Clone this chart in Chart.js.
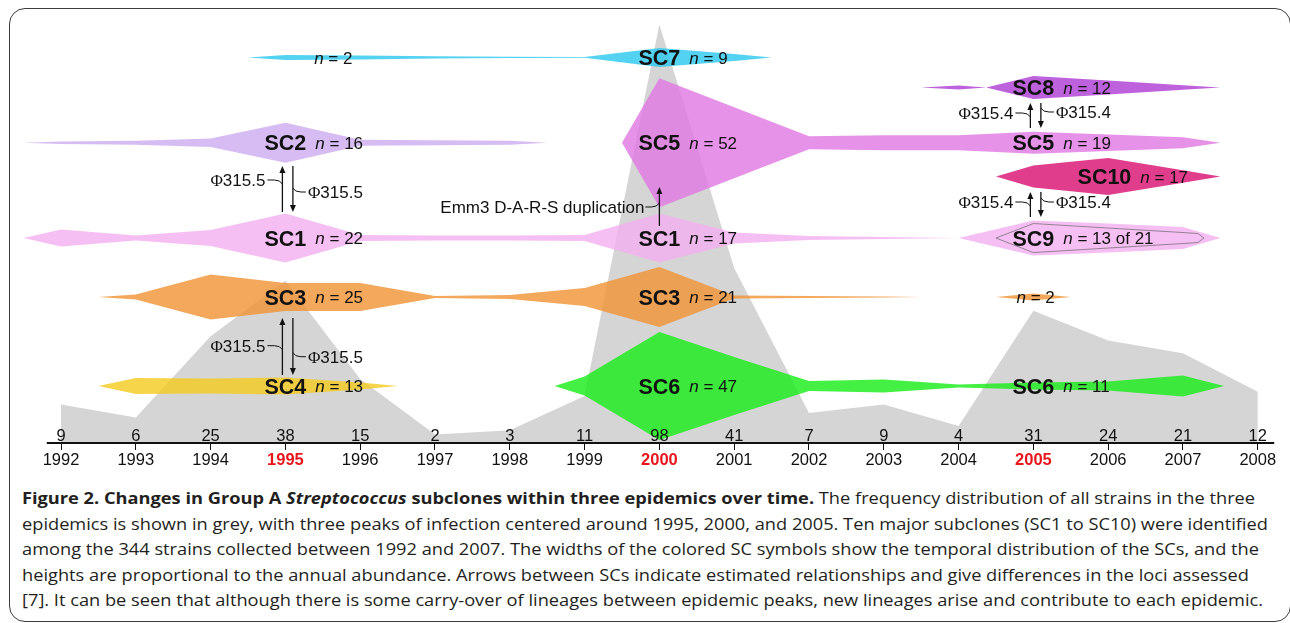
<!DOCTYPE html>
<html lang="en">
<head>
<meta charset="UTF-8">
<title>Group A Streptococcus subclones</title>
<script src="https://cdn.jsdelivr.net/npm/chart.js"></script>
<style>
  body {
    margin: 0;
    width: 1290px;
    height: 623px;
    overflow: hidden;
    position: relative;
    background: #fff;
  }

  .frame {
    position: absolute;
    left: 9px;
    top: 8px;
    width: 1282px;
    height: 614px;
    box-sizing: border-box;
    border: 1.5px solid #3c3c3c;
    border-radius: 16px;
  }

  #chart {
    position: absolute;
    left: 0;
    top: 0;
  }

  #caption {
    position: absolute;
    left: 22px;
    top: 485px;
    font-family: "Open Sans", "Noto Sans", sans-serif;
    font-size: 16.5px;
    line-height: 25.5px;
    color: #231f20;
    white-space: nowrap;
    transform-origin: left top;
  }

  #caption .ln {
    width: max-content;
  }
</style>
</head>
<body>
  <div class="frame"></div>
  <canvas id="chart" width="1290" height="480"></canvas>
  <div id="caption">
    <div class="ln"><b>Figure 2. Changes in Group A <i>Streptococcus</i> subclones within three epidemics over time.</b> The frequency distribution of all strains in the three</div>
    <div class="ln">epidemics is shown in grey, with three peaks of infection centered around 1995, 2000, and 2005. Ten major subclones (SC1 to SC10) were identified</div>
    <div class="ln">among the 344 strains collected between 1992 and 2007. The widths of the colored SC symbols show the temporal distribution of the SCs, and the</div>
    <div class="ln">heights are proportional to the annual abundance. Arrows between SCs indicate estimated relationships and give differences in the loci assessed</div>
    <div class="ln">[7]. It can be seen that although there is some carry-over of lineages between epidemic peaks, new lineages arise and contribute to each epidemic.</div>
  </div>

  <script>
    function fitCaption() {
      const cap = document.getElementById('caption');
      cap.style.transform = 'none';
      const w = cap.querySelectorAll('.ln')[1].getBoundingClientRect().width;
      cap.style.transform = 'scaleX(' + (1246 / w) + ')';
    }
    fitCaption();
    document.fonts.ready.then(fitCaption);

    // all strains per year (grey area + numbers above the axis)
    const years = [1992, 1993, 1994, 1995, 1996, 1997, 1998, 1999, 2000, 2001, 2002, 2003, 2004, 2005, 2006, 2007, 2008];
    const strainCounts = [9, 6, 25, 38, 15, 2, 3, 11, 98, 41, 7, 9, 4, 31, 24, 21, 12];
    const peakYears = [1995, 2000, 2005];

    // vertical level of each subclone row
    const rowA = 90.3, rowB = 83.26, rowC = 70.33, rowD = 62.41, rowE = 48.0, rowF = 34.19, rowG = 13.35;

    // subclone bands: sample years and half height (annual abundance)
    const sc7Years = [1994.5, 1995, 1996, 1997, 1998, 1999, 2000, 2001, 2001.5];
    const sc7Half = [0, 0.59, 0.47, 0.28, 0.14, 0.09, 2.22, 0.82, 0];
    const sc8Years = [2003.5, 2004, 2004.37, 2005, 2006, 2007, 2007.5];
    const sc8Half = [0, 0.47, 0.02, 2.69, 1.64, 0.54, 0];
    const sc2Years = [1991.5, 1992, 1993, 1994, 1995, 1996, 1997, 1998, 1998.5];
    const sc2Half = [0, 0.28, 0.47, 1.0, 4.68, 0.7, 0.59, 0.47, 0];
    const sc5Years = [1999.5, 2000, 2001, 2002, 2003, 2004, 2005, 2006, 2007, 2007.5];
    const sc5Half = [0, 15.1, 8.31, 1.52, 1.76, 1.76, 2.58, 1.92, 1.29, 0];
    const sc10Years = [2004.5, 2005, 2006, 2007, 2007.5];
    const sc10Half = [0, 2.58, 4.33, 1.45, 0];
    const sc1Years = [1991.5, 1992, 1993, 1994, 1995, 1996, 1997, 1998, 1999, 2000, 2001, 2002, 2003, 2004];
    const sc1Half = [0, 1.99, 0.59, 1.87, 5.74, 0.7, 0.59, 0.59, 0.7, 5.74, 1.29, 0.47, 0.23, 0];
    const sc1LateYears = [2004, 2005, 2006, 2007, 2007.5];
    const sc1LateHalf = [0, 4.1, 3.4, 2.58, 0];
    const sc9Years = [2004.5, 2005, 2006, 2007, 2007.2, 2007.28];
    const sc9Half = [0, 3.4, 2.34, 1.29, 1.05, 0];
    const sc3Years = [1992.5, 1993, 1994, 1995, 1996, 1997, 1998, 1999, 2000, 2001, 2002, 2003, 2003.5];
    const sc3Half = [0, 0.59, 5.27, 3.28, 3.28, 0.23, 0.47, 2.11, 7.03, 0.35, 0.23, 0.12, 0];
    const sc3LateYears = [2004.5, 2005, 2005.5];
    const sc3LateHalf = [0, 0.82, 0];
    const sc4Years = [1992.5, 1993, 1994, 1995, 1996, 1996.5];
    const sc4Half = [0, 1.87, 1.76, 1.99, 0.82, 0];
    const sc6Years = [1998.6, 1999, 2000, 2001, 2002, 2003, 2004, 2005, 2006, 2007, 2007.55];
    const sc6Half = [0, 2.22, 12.65, 6.79, 1.17, 1.52, 0.35, 0.82, 1.05, 2.46, 0];

    // labels on the bands
    const scNames = ['SC7', 'SC8', 'SC2', 'SC5', 'SC5', 'SC10', 'SC1', 'SC1', 'SC9', 'SC3', 'SC3', 'SC4', 'SC6', 'SC6'];
    const scCounts = ['9', '12', '16', '52', '19', '17', '22', '17', '13 of 21', '25', '21', '13', '47', '11'];
    const scLabelYears = [2000, 2005, 1995, 2000, 2005, 2005.95, 1995, 2000, 2005, 1995, 2000, 1995, 2000, 2005];
    const scLabelRows = [rowA, rowB, rowC, rowC, rowC, rowD, rowE, rowE, rowE, rowF, rowF, rowG, rowG, rowG];
    const smallCounts = ['2', '2'];
    const smallYears = [1995.64, 2005.03];
    const smallRows = [rowA, rowF];

    // arrows between subclones
    const linkYears = [1995, 1995, 2005, 2005];
    const linkUpper = [64.87, 29.27, 79.63, 58.78];
    const linkLower = [54.1, 15.93, 73.77, 52.93];
    const linkLabels = ['315.5', '315.5', '315.4', '315.4'];
    const linkLeftRows = [61.59, 22.79, 77.28, 56.44];
    const linkRightRows = [58.78, 20.21, 77.52, 56.44];
    const emmYear = 2000, emmFrom = 50.82, emmTo = 59.95, emmRow = 55.27;

    const axisStart = 1991.81, axisEnd = 2008.22;
    const FONT = '"Liberation Sans", Arial, sans-serif';

    function band(yrs, half, level) {
      const top = yrs.map((x, i) => ({ x, y: level + half[i] }));
      const bottom = yrs.map((x, i) => ({ x, y: level - half[i] })).reverse();
      return top.concat(bottom);
    }

    const subclones = [
      [sc7Years, sc7Half, rowA, 'rgba(40, 200, 238, 0.8)'],
      [sc8Years, sc8Half, rowB, 'rgba(174, 62, 212, 0.82)'],
      [sc2Years, sc2Half, rowC, 'rgba(205, 171, 240, 0.8)'],
      [sc5Years, sc5Half, rowC, 'rgba(224, 119, 226, 0.8)'],
      [sc10Years, sc10Half, rowD, 'rgba(217, 20, 116, 0.82)'],
      [sc1Years, sc1Half, rowE, 'rgba(244, 175, 240, 0.8)'],
      [sc1LateYears, sc1LateHalf, rowE, 'rgba(244, 175, 240, 0.8)'],
      [sc3Years, sc3Half, rowF, 'rgba(241, 146, 51, 0.8)'],
      [sc3LateYears, sc3LateHalf, rowF, 'rgba(241, 146, 51, 0.8)'],
      [sc4Years, sc4Half, rowG, 'rgba(245, 203, 29, 0.8)'],
      [sc6Years, sc6Half, rowG, 'rgba(20, 236, 20, 0.8)']
    ];

    const datasets = [{
      data: years.map((x, i) => ({ x, y: strainCounts[i] })),
      fill: 'origin',
      backgroundColor: '#d5d5d5',
      borderWidth: 0,
      borderColor: 'transparent',
      pointRadius: 0,
      order: 10
    }];

    subclones.forEach(([yrs, half, level, color]) => {
      datasets.push({
        data: band(yrs, half, level),
        fill: 'shape',
        backgroundColor: color,
        borderWidth: 0,
        borderColor: 'transparent',
        pointRadius: 0,
        order: 5
      });
    });

    const sc9Outline = band(sc9Years, sc9Half, rowE);
    sc9Outline.push(sc9Outline[0]);
    datasets.push({
      data: sc9Outline,
      fill: false,
      borderColor: 'rgba(100, 100, 100, 0.85)',
      borderWidth: 0.8,
      pointRadius: 0,
      order: 1
    });

    datasets.push({
      data: [{ x: axisStart, y: 0 }, { x: axisEnd, y: 0 }],
      fill: false,
      borderColor: '#111',
      borderWidth: 2,
      pointRadius: 0,
      clip: false,
      order: 0
    });

    function arrow(ctx, x, y1, y2) {
      // shaft from y1 to y2 with the head at y2
      const dir = y2 > y1 ? 1 : -1;
      ctx.beginPath();
      ctx.moveTo(x, y1);
      ctx.lineTo(x, y2 - dir * 5);
      ctx.stroke();
      ctx.beginPath();
      ctx.moveTo(x, y2);
      ctx.lineTo(x - 3, y2 - dir * 7);
      ctx.lineTo(x + 3, y2 - dir * 7);
      ctx.closePath();
      ctx.fill();
    }

    function phiText(ctx, txt, x, y, align) {
      ctx.font = '17px "Liberation Serif", serif';
      const pw = ctx.measureText('\u03A6').width;
      ctx.font = '17px ' + FONT;
      const tw = ctx.measureText(txt).width;
      const left = align === 'right' ? x - pw - tw : x;
      ctx.textAlign = 'left';
      ctx.font = '17px "Liberation Serif", serif';
      ctx.fillText('\u03A6', left, y + 6.1);
      ctx.font = '17px ' + FONT;
      ctx.fillText(txt, left + pw, y + 6.1);
    }

    function countText(ctx, count, left, cy) {
      ctx.textAlign = 'left';
      ctx.font = 'italic 17px ' + FONT;
      const nw = ctx.measureText('n').width;
      ctx.fillText('n', left, cy + 6.1);
      ctx.font = '17px ' + FONT;
      ctx.fillText(' = ' + count, left + nw, cy + 6.1);
    }

    const annotations = {
      id: 'annotations',
      afterDatasetsDraw(chart) {
        const { ctx, chartArea } = chart;
        const xs = chart.scales.x, ys = chart.scales.y;
        ctx.save();
        ctx.fillStyle = '#111';
        ctx.strokeStyle = '#111';
        ctx.lineWidth = 1.3;

        // strain numbers above the axis
        ctx.font = '16.5px ' + FONT;
        ctx.textAlign = 'center';
        years.forEach((yr, i) => {
          ctx.fillText(String(strainCounts[i]), xs.getPixelForValue(yr), chartArea.bottom - 8 + 5.9);
        });

        // subclone names and sizes
        scNames.forEach((name, i) => {
          const cx = xs.getPixelForValue(scLabelYears[i]);
          const cy = ys.getPixelForValue(scLabelRows[i]);
          ctx.font = 'bold 21.5px ' + FONT;
          ctx.textAlign = 'left';
          const w = ctx.measureText(name).width;
          ctx.fillText(name, cx - w / 2, cy + 7.7);
          countText(ctx, scCounts[i], cx + w / 2 + 9, cy);
        });
        smallCounts.forEach((c, i) => {
          ctx.font = '17px ' + FONT;
          const w = ctx.measureText('n = ' + c).width;
          countText(ctx, c, xs.getPixelForValue(smallYears[i]) - w / 2, ys.getPixelForValue(smallRows[i]));
        });

        // relationship arrows
        linkYears.forEach((yr, i) => {
          const px = xs.getPixelForValue(yr);
          const upX = px - 3, downX = px + 7.5;
          const top = ys.getPixelForValue(linkUpper[i]);
          const bot = ys.getPixelForValue(linkLower[i]);
          arrow(ctx, upX, bot, top);
          arrow(ctx, downX, top, bot);
          const yl = ys.getPixelForValue(linkLeftRows[i]);
          const yr2 = ys.getPixelForValue(linkRightRows[i]);
          ctx.lineWidth = 1;
          ctx.beginPath();
          ctx.moveTo(upX - 15, yl);
          ctx.lineTo(upX - 8, yl);
          ctx.quadraticCurveTo(upX - 2, yl, upX, yl + 4);
          ctx.stroke();
          ctx.beginPath();
          ctx.moveTo(downX, yr2 - 4);
          ctx.quadraticCurveTo(downX + 2, yr2, downX + 8, yr2);
          ctx.lineTo(downX + 13, yr2);
          ctx.stroke();
          ctx.lineWidth = 1.3;
          phiText(ctx, linkLabels[i], upX - 17, yl, 'right');
          phiText(ctx, linkLabels[i], downX + 15, yr2, 'left');
        });

        // Emm3 duplication arrow
        const ex = xs.getPixelForValue(emmYear);
        arrow(ctx, ex, ys.getPixelForValue(emmFrom), ys.getPixelForValue(emmTo));
        const ey = ys.getPixelForValue(emmRow);
        ctx.lineWidth = 1;
        ctx.beginPath();
        ctx.moveTo(ex - 14, ey);
        ctx.lineTo(ex - 8, ey);
        ctx.quadraticCurveTo(ex - 2, ey, ex, ey - 4);
        ctx.stroke();
        ctx.font = '17px ' + FONT;
        ctx.textAlign = 'right';
        ctx.fillText('Emm3 D-A-R-S duplication', ex - 15, ey + 6.1);
        ctx.restore();
      }
    };

    const isPeak = c => !!(c && c.tick && peakYears.includes(c.tick.value));

    new Chart(document.getElementById('chart'), {
      type: 'line',
      data: { datasets },
      options: {
        responsive: false,
        animation: false,
        layout: { padding: { left: 15, right: 5, top: 16, bottom: 0 } },
        elements: { line: { tension: 0 } },
        plugins: {
          legend: { display: false },
          tooltip: { enabled: false }
        },
        scales: {
          x: {
            type: 'linear',
            min: 1991.385,
            max: 2008.364,
            afterBuildTicks: axis => { axis.ticks = years.map(v => ({ value: v })); },
            afterFit: axis => { axis.height = 37; },
            border: { display: false },
            grid: { drawOnChartArea: false, drawTicks: true, tickLength: 7, color: '#111', lineWidth: 1 },
            ticks: {
              autoSkip: false,
              maxRotation: 0,
              padding: 1,
              callback: v => String(v),
              color: c => isPeak(c) ? '#e8161b' : '#111',
              font: c => ({
                family: FONT,
                size: 16.5,
                weight: isPeak(c) ? 'bold' : 'normal'
              })
            }
          },
          y: { type: 'linear', min: 0, max: 100, display: false }
        }
      },
      plugins: [annotations]
    });
  </script>
</body>
</html>
